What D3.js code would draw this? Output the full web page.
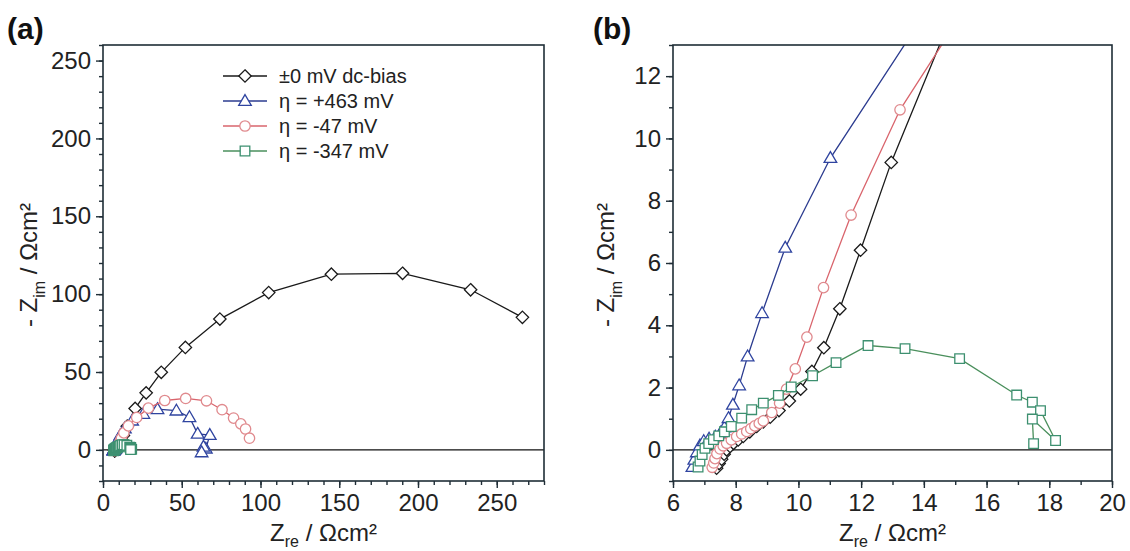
<!DOCTYPE html>
<html>
<head>
<meta charset="utf-8">
<script src="https://cdn.jsdelivr.net/npm/d3@7"></script>
<style>
  body { margin: 0; background: #fff; }
  text { font-family: 'Liberation Sans', Arial, sans-serif; fill: #222; }
</style>
</head>
<body>
<svg id="chart" width="1130" height="551"></svg>
<script>
// impedance spectra, [Z_re, -Z_im] in Ohm cm2
const zeroBias = [
  [7.39,-0.59],[7.47,-0.44],[7.55,-0.3],[7.63,-0.14],[7.71,0.0],[7.82,0.11],[7.93,0.21],
  [8.08,0.32],[8.24,0.43],[8.45,0.58],[8.67,0.75],[8.88,0.9],[9.1,1.05],[9.38,1.26],
  [9.71,1.57],[10.07,1.95],[10.43,2.52],[10.81,3.28],[11.32,4.53],[11.98,6.41],[12.96,9.23],
  [15.4,15.2],[20.4,26.6],[27.4,36.6],[37,49.8],[52.3,65.8],[74.2,84],[105.2,101],
  [145,112.8],[190.2,113.4],[233.4,102.8],[266.3,85.1]
];
const etaPos463 = [
  [6.62,-0.55],[6.68,-0.32],[6.76,-0.08],[6.86,0.14],[6.98,0.28],[7.15,0.36],[7.35,0.42],
  [7.52,0.55],[7.64,0.72],[7.77,1.02],[7.91,1.45],[8.11,2.07],[8.38,3.0],[8.84,4.39],
  [9.58,6.49],[11.02,9.37],[13.9,13.8],[18.5,18.8],[25.6,23.1],[34.6,26.1],[46.6,25.2],
  [54.9,21],[60.1,10.3],[67.8,9.5],[65.3,0.8],[63.8,2.0],[62.6,-1.6]
];
const etaNeg47 = [
  [7.25,-0.56],[7.3,-0.42],[7.34,-0.28],[7.4,-0.12],[7.5,0.03],[7.6,0.13],[7.71,0.21],
  [7.86,0.32],[8.03,0.43],[8.19,0.51],[8.35,0.59],[8.48,0.68],[8.61,0.77],[8.75,0.85],
  [8.88,0.93],[9.15,1.2],[9.4,1.5],[9.62,1.95],[9.9,2.6],[10.27,3.62],[10.8,5.21],
  [11.68,7.54],[13.24,10.92],[16.1,15.4],[21.4,20.8],[28.8,26.8],[39.2,31.7],[52.5,33],
  [65.7,31.5],[75.6,25.8],[82.9,20.4],[87.5,16.7],[90.5,13.4],[93,7.5]
];
const etaNeg347 = [
  [6.8,-0.55],[6.86,-0.36],[6.93,-0.15],[7.02,0.05],[7.14,0.2],[7.29,0.33],[7.46,0.45],
  [7.64,0.58],[7.86,0.75],[8.19,1.02],[8.51,1.29],[8.88,1.5],[9.36,1.75],[9.77,2.02],
  [10.45,2.38],[11.2,2.8],[12.22,3.35],[13.4,3.25],[15.14,2.93],[16.96,1.76],[17.46,1.53],
  [17.72,1.26],[18.2,0.3],[17.46,0.99],[17.5,0.2]
];

const legendLabels = ['±0 mV dc-bias', 'η = +463 mV', 'η = -47 mV', 'η = -347 mV'];

const xTicksA = [0, 50, 100, 150, 200, 250];
const yTicksA = [0, 50, 100, 150, 200, 250];
const xTicksB = [6, 8, 10, 12, 14, 16, 18, 20];
const yTicksB = [0, 2, 4, 6, 8, 10, 12];

const series = [
  {data: zeroBias,  shape: 'diamond',  line: '#1a1a1a', mark: '#1a1a1a'},
  {data: etaPos463, shape: 'triangle', line: '#2b3b8f', mark: '#2f44a0'},
  {data: etaNeg47,  shape: 'circle',   line: '#d9646c', mark: '#e08a8e'},
  {data: etaNeg347, shape: 'square',   line: '#4a8f5c', mark: '#3d9070'}
];

const shapes = {
  diamond:  'M0,-6.2L6.2,0L0,6.2L-6.2,0Z',
  triangle: 'M0,-6.4L6.3,4.4L-6.3,4.4Z',
  circle:   d3.arc()({innerRadius: 0, outerRadius: 5.2, startAngle: 0, endAngle: 2 * Math.PI}),
  square:   'M-4.8,-4.8H4.8V4.8H-4.8Z'
};

const svg = d3.select('#chart');
const frameColor = '#1f2d36';

function drawPanel(opt){
  const top = 45, bottom = 481;
  const x = d3.scaleLinear().domain(opt.xDomain).range([opt.left, opt.right]);
  const y = d3.scaleLinear().domain(opt.yDomain).range([bottom, top]);

  const g = svg.append('g');

  g.append('clipPath').attr('id', opt.id + '-clip')
    .append('rect')
      .attr('x', opt.left).attr('y', top)
      .attr('width', opt.right - opt.left).attr('height', bottom - top);

  // zero line
  g.append('line')
    .attr('x1', opt.left).attr('x2', opt.right)
    .attr('y1', y(0)).attr('y2', y(0))
    .style('stroke', '#111').style('stroke-width', 1.4);

  const plot = g.append('g').attr('clip-path', `url(#${opt.id}-clip)`);
  const line = d3.line().x(d => x(d[0])).y(d => y(d[1]));

  series.forEach(s => {
    plot.append('path')
      .datum(s.data)
      .attr('d', line)
      .style('fill', 'none')
      .style('stroke', s.line)
      .style('stroke-width', 1.3);

    plot.selectAll(null)
      .data(s.data)
      .enter()
      .append('path')
        .attr('d', shapes[s.shape])
        .attr('transform', d => `translate(${x(d[0])},${y(d[1])})`)
        .style('fill', '#fff')
        .style('stroke', s.mark)
        .style('stroke-width', 1.3);
  });

  // frame
  g.append('rect')
    .attr('x', opt.left).attr('y', top)
    .attr('width', opt.right - opt.left).attr('height', bottom - top)
    .style('fill', 'none').style('stroke', frameColor).style('stroke-width', 1.6);

  // minor ticks
  g.append('g')
    .attr('transform', `translate(0,${bottom})`)
    .call(d3.axisBottom(x).tickValues(opt.xMinor).tickSize(4).tickFormat(''))
    .call(a => a.select('.domain').remove());
  g.append('g')
    .attr('transform', `translate(${opt.left},0)`)
    .call(d3.axisLeft(y).tickValues(opt.yMinor).tickSize(4).tickFormat(''))
    .call(a => a.select('.domain').remove());

  // major ticks + labels
  const xAxis = g.append('g')
    .attr('transform', `translate(0,${bottom})`)
    .call(d3.axisBottom(x).tickValues(opt.xTicks).tickSize(7).tickPadding(6))
    .call(a => a.select('.domain').remove());
  const yAxis = g.append('g')
    .attr('transform', `translate(${opt.left},0)`)
    .call(d3.axisLeft(y).tickValues(opt.yTicks).tickSize(7).tickPadding(5))
    .call(a => a.select('.domain').remove());

  g.selectAll('.tick line').style('stroke', frameColor).style('stroke-width', 1.4);
  [xAxis, yAxis].forEach(a => a.selectAll('text')
    .style('font-family', "'Liberation Sans', Arial, sans-serif")
    .style('font-size', '24px')
    .style('fill', '#222'));

  // axis titles
  const xt = g.append('text')
    .attr('x', (opt.left + opt.right) / 2)
    .attr('y', 541)
    .style('text-anchor', 'middle')
    .style('font-size', '24px');
  xt.append('tspan').text('Z');
  xt.append('tspan').text('re').attr('dy', 6).style('font-size', '16px');
  xt.append('tspan').text(' / Ωcm²').attr('dy', -6);

  const yt = g.append('text')
    .attr('transform', `translate(${opt.yTitleX},265) rotate(-90)`)
    .style('text-anchor', 'middle')
    .style('font-size', '24px');
  yt.append('tspan').text('- Z');
  yt.append('tspan').text('im').attr('dy', 8).style('font-size', '16px');
  yt.append('tspan').text(' / Ωcm²').attr('dy', -8);

  // panel letter
  g.append('text')
    .attr('x', opt.letterX).attr('y', 39)
    .text(opt.letter)
    .style('font-size', '30px')
    .style('font-weight', 'bold')
    .style('fill', '#111');

  return g;
}

const gA = drawPanel({
  id: 'a', letter: '(a)', letterX: 7,
  left: 103, right: 544, yTitleX: 37,
  xDomain: [0, 280], yDomain: [-20, 260],
  xTicks: xTicksA, yTicks: yTicksA,
  xMinor: d3.range(0, 281, 10), yMinor: d3.range(-20, 261, 10)
});

drawPanel({
  id: 'b', letter: '(b)', letterX: 593,
  left: 673, right: 1112, yTitleX: 614,
  xDomain: [6, 20], yDomain: [-1, 13],
  xTicks: xTicksB, yTicks: yTicksB,
  xMinor: d3.range(6, 21, 1), yMinor: d3.range(-1, 14, 1)
});

// legend in panel (a)
const legend = gA.append('g');
legendLabels.forEach((label, i) => {
  const s = series[i];
  const cy = 76 + i * 25;
  legend.append('line')
    .attr('x1', 223).attr('x2', 267)
    .attr('y1', cy).attr('y2', cy)
    .style('stroke', s.line).style('stroke-width', 1.3);
  legend.append('path')
    .attr('d', shapes[s.shape])
    .attr('transform', `translate(245,${cy})`)
    .style('fill', '#fff').style('stroke', s.mark).style('stroke-width', 1.3);
  legend.append('text')
    .attr('x', 279).attr('y', cy).attr('dy', '0.36em')
    .text(label)
    .style('font-size', '20px');
});
</script>
</body>
</html>
